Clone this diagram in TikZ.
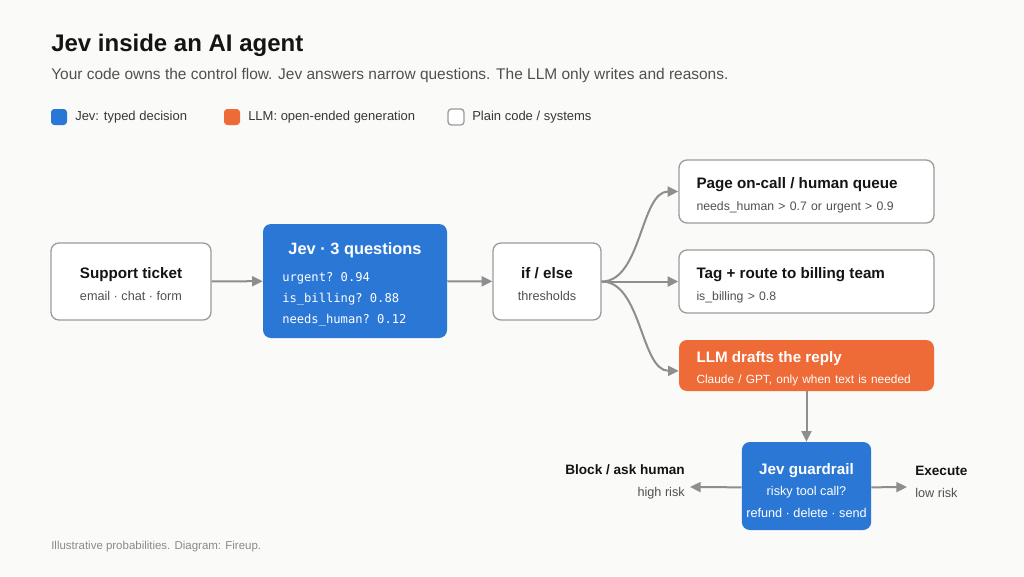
\documentclass[tikz,border=0pt]{standalone}
\usepackage{fontspec}
\setmainfont{Liberation Sans}
\setmonofont{DejaVu Sans Mono}
\usetikzlibrary{arrows.meta,positioning}
\definecolor{JevBlue}{HTML}{2B77D6}
\definecolor{LlmOrange}{HTML}{EE6A36}
\definecolor{Edge}{HTML}{9C9C9C}
\definecolor{Wire}{HTML}{8E8E8E}
\definecolor{Ink}{HTML}{141414}
\definecolor{Mute}{HTML}{505050}
\definecolor{Faint}{HTML}{8A8A8A}
\definecolor{Paper}{HTML}{FAFAF8}
\newcommand\szTitle{\fontsize{18}{22}\selectfont}
\newcommand\szLead{\fontsize{11.6}{14}\selectfont}
\newcommand\szHead{\fontsize{11.4}{16}\selectfont}
\newcommand\szBig{\fontsize{12.3}{16}\selectfont}
\newcommand\szNote{\fontsize{9.5}{16}\selectfont}
\newcommand\szSmall{\fontsize{9.2}{15}\selectfont}
\newcommand\szSide{\fontsize{10.2}{15}\selectfont}
\newcommand\szMono{\fontsize{9.1}{15.75}\selectfont}
\newcommand\lift[1]{\rule{0pt}{#1}}

\begin{document}
\begin{tikzpicture}[
  x=0.75pt, y=-0.75pt,
  font=\szNote,
  plain/.style={draw=Edge, fill=white, line width=1pt, rounded corners=6pt, text=Ink, align=center},
  jev/.style={fill=JevBlue, rounded corners=6pt, text=white, align=center},
  llm/.style={fill=LlmOrange, rounded corners=6pt, text=white},
  wide/.style={minimum width=191.25pt, text width=165pt, inner xsep=13.1pt, align=left},
  key/.style={minimum size=12pt, inner sep=0pt, rounded corners=2.5pt},
  keytext/.style={anchor=west, inner sep=0pt, font=\fontsize{9.75}{12}\selectfont, text=Ink!85},
  arr/.style={-{Triangle[length=8pt,width=7.5pt]}, line width=1.5pt, draw=Wire},
]
\useasboundingbox[fill=Paper] (0,0) rectangle (1024,576);

% heading
\node[anchor=base west, inner sep=0pt, font=\szTitle\bfseries, text=Ink] (title) at (51,51) {Jev inside an AI agent};
\node[anchor=base west, inner sep=0pt, font=\szLead, text=Mute] (lead) at (51,79) {Your code owns the control flow. Jev answers narrow questions. The LLM only writes and reasons.};

% legend
\node[key, fill=JevBlue] (k1) at (59,117) {};
\node[keytext] (k1t) at (75,117) {Jev: typed decision};
\node[key, fill=LlmOrange] (k2) at (232,117) {};
\node[keytext] (k2t) at (248,117) {LLM: open-ended generation};
\node[key, draw=Edge, fill=white, line width=1pt] (k3) at (456,117) {};
\node[keytext] (k3t) at (472,117) {Plain code / systems};

% main row
\node[plain, minimum width=120pt, minimum height=57.75pt] (tkt) at (131,281.5)
  {{\szHead\bfseries\lift{12pt}Support ticket}\\{\color{Mute}email · chat · form}};
\node[jev, minimum width=138pt, minimum height=85.5pt] (jev) at (355,281) {};
\node[text=white, font=\szBig\bfseries] (jevt) at (355,250) {Jev · 3 questions};
\node[text=white, font=\szMono\ttfamily, anchor=west, align=left, inner sep=0pt] (jevq) at (282,299)
  {urgent? 0.94\\is\_billing? 0.88\\needs\_human? 0.12};
\node[plain, minimum width=81pt, minimum height=57.75pt] (ife) at (547,281.5)
  {{\szHead\bfseries\lift{12pt}if / else}\\{\color{Mute}thresholds}};

% outcomes
\node[plain, wide, minimum height=47.25pt] (page) at (806.5,191.5)
  {{\szHead\bfseries\lift{14pt}Page on-call / human queue}\\{\szSmall\color{Mute}needs\_human > 0.7 or urgent > 0.9}};
\node[plain, wide, minimum height=47.25pt] (bill) at (806.5,281.5)
  {{\szHead\bfseries\lift{14pt}Tag + route to billing team}\\{\szSmall\color{Mute}is\_billing > 0.8}};
\node[llm, wide, minimum height=38.25pt, inner ysep=2pt] (draft) at (806.5,365.5)
  {{\fontsize{11.4}{14.5}\selectfont\bfseries\lift{13pt}LLM drafts the reply}\\{\fontsize{8.9}{14.5}\selectfont\mbox{Claude / GPT, only when text is needed}}};

% guardrail
\node[jev, minimum width=95.25pt, minimum height=66pt] (guard) at (806.5,486)
  {{\szHead\bfseries\lift{15pt}Jev guardrail}\\risky tool call?\\refund · delete · send};
\node[anchor=east, align=right, inner sep=0pt, text=Ink] (block) at (685,482)
  {{\szSide\bfseries Block / ask human}\\{\color{Mute}high risk}};
\node[anchor=west, align=left, inner sep=0pt, text=Ink] (exec) at (915,482)
  {{\szSide\bfseries Execute}\\{\color{Mute}low risk}};
\coordinate (blockpt) at (690,487);
\coordinate (execpt) at (907,487);

% footer
\node[anchor=west, inner sep=0pt, font=\fontsize{8.6}{10}\selectfont, text=Faint] (foot) at (51,547) {Illustrative probabilities. Diagram: Fireup.};

% connectors
\draw[arr] (tkt) -- (jev);
\draw[arr] (jev) -- (ife);
\draw[arr] (ife.east) .. controls +(40,0) and +(-38,0) .. (page.west);
\draw[arr] (ife.east) -- (bill.west);
\draw[arr] (ife.east) .. controls +(40,0) and +(-38,0) .. ([yshift=-4pt]draft.west);
\draw[arr] (draft) -- (guard);
\draw[arr] ([yshift=-1pt]guard.west) -- (blockpt);
\draw[arr] ([yshift=-1pt]guard.east) -- (execpt);
\end{tikzpicture}
\end{document}
